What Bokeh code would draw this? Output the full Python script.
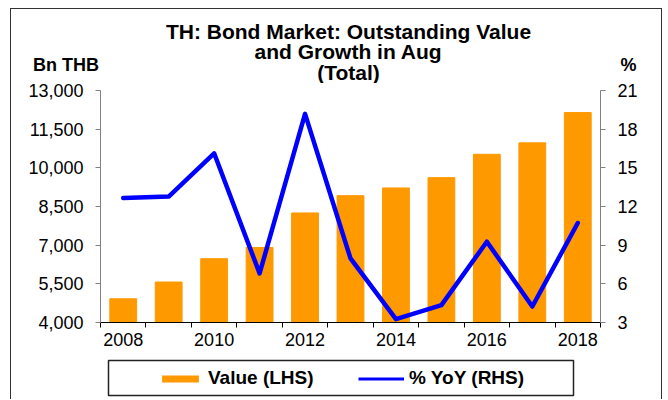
from bokeh.plotting import figure
from bokeh.layouts import column
from bokeh.models import (Range1d, LinearAxis, FixedTicker, NumeralTickFormatter,
                          Legend, LegendItem, ColumnDataSource)
from bokeh.core.properties import value
from bokeh.embed import file_html
from bokeh.resources import INLINE

# ---- data ----
years = [2008, 2009, 2010, 2011, 2012, 2013, 2014, 2015, 2016, 2017, 2018]
values = [4920, 5570, 6475, 6910, 8250, 8920, 9220, 9620, 10525, 10970, 12145]
yoy = [12.66, 12.77, 16.13, 6.81, 19.19, 7.97, 3.26, 4.35, 9.27, 4.24, 10.72]
left_ticks = [4000, 5500, 7000, 8500, 10000, 11500, 13000]
right_ticks = [3, 6, 9, 12, 15, 18, 21]
year_labels = [2008, 2010, 2012, 2014, 2016, 2018]
title_lines = ["TH: Bond Market: Outstanding Value", "and Growth in Aug", "(Total)"]
left_unit = "Bn THB"
right_unit = "%"
series_names = ["Value (LHS)", "% YoY (RHS)"]

FONT = "Liberation Sans"
ORANGE = "#FF9900"
BLUE = "#0000FF"
GRAY = "#808080"

# page geometry (column content starts at x=11, y=9)
X0, X1 = 11, 661
W = X1 - X0
Y0 = 9
HEAD_BOT = 83
OVERLAP = 10
MAIN_BOT = 357
PAGE_BOT = 399


def blank_fig(y_top, y_bot):
    f = figure(width=W, height=y_bot - y_top, output_backend="svg", toolbar_location=None,
               x_range=Range1d(X0, X1), y_range=Range1d(y_bot, y_top),
               min_border=0, x_axis_location=None, y_axis_location=None,
               frame_align=False)
    f.outline_line_color = None
    f.xgrid.visible = False
    f.ygrid.visible = False
    f.border_fill_color = "white"
    f.background_fill_color = "white"
    return f


# ---- header (title and unit labels) ----
head = blank_fig(Y0, HEAD_BOT)
head.text(x=[348] * 3, y=[30.5, 51.2, 72], text=title_lines, text_font=value(FONT),
          text_font_style="bold", text_font_size="21px", text_align="center",
          text_baseline="alphabetic", text_color="black")
head.text(x=[65.5, 628], y=[64, 64], text=[left_unit, right_unit], text_font=value(FONT),
          text_font_style="bold", text_font_size="18px", text_align="center",
          text_baseline="alphabetic", text_color="black")

# ---- main chart (its transparent top border overlaps the header a little) ----
main_top = HEAD_BOT - OVERLAP
src = ColumnDataSource(dict(year=years, value=values, yoy=yoy))
p = figure(width=W, height=MAIN_BOT - main_top, output_backend="svg", toolbar_location=None,
           x_range=Range1d(years[0] - 0.5, years[-1] + 0.5),
           y_range=Range1d(left_ticks[0], left_ticks[-1]),
           min_border_left=100 - X0, min_border_right=X1 - 600,
           min_border_top=90 - main_top, min_border_bottom=MAIN_BOT - 322,
           y_axis_location=None, x_axis_location=None, frame_align=False,
           margin=(-OVERLAP, 0, 0, 0))
p.outline_line_color = None
p.xgrid.visible = False
p.ygrid.visible = False
p.border_fill_alpha = 0
p.background_fill_color = "white"
p.extra_y_ranges = {"pct": Range1d(right_ticks[0], right_ticks[-1])}

p.vbar(x="year", top="value", bottom=left_ticks[0], width=0.59, source=src,
       fill_color=ORANGE, line_color=ORANGE)
p.line(x="year", y="yoy", source=src, y_range_name="pct", line_color=BLUE,
       line_width=4.5, line_join="round", line_cap="round")


def style_axis(ax, color):
    ax.axis_line_color = color
    ax.major_tick_line_color = color
    ax.major_tick_in = 0
    ax.major_tick_out = 5
    ax.minor_tick_line_color = None
    ax.major_label_text_font = FONT
    ax.major_label_text_font_size = "18px"
    ax.major_label_text_color = "black"


xax = LinearAxis(ticker=FixedTicker(ticks=year_labels,
                                    minor_ticks=[y - 0.5 for y in years] + [years[-1] + 0.5]))
style_axis(xax, "black")
xax.major_tick_line_color = None
xax.minor_tick_line_color = "black"
xax.minor_tick_in = 0
xax.minor_tick_out = 5
xax.major_label_standoff = 5
p.add_layout(xax, "below")

lax = LinearAxis(ticker=FixedTicker(ticks=left_ticks), formatter=NumeralTickFormatter(format="0,0"))
style_axis(lax, GRAY)
lax.major_label_standoff = 12
p.add_layout(lax, "left")

rax = LinearAxis(y_range_name="pct", ticker=FixedTicker(ticks=right_ticks))
style_axis(rax, GRAY)
rax.major_label_standoff = 12
p.add_layout(rax, "right")

# ---- legend strip ----
leg = blank_fig(MAIN_BOT, PAGE_BOT)
leg.quad(left=[108], right=[573], top=[360], bottom=[395], fill_color=None,
         line_color="#222222", line_width=1.5)
# legend proxies: the same series, lying outside this strip's visible range
r_bar = leg.vbar(x=years, top=values, width=0.59, fill_color=ORANGE, line_color=None)
r_line = leg.line(x=years, y=yoy, line_color=BLUE, line_width=3)
legend = Legend(items=[LegendItem(label=series_names[0], renderers=[r_bar]),
                       LegendItem(label=series_names[1], renderers=[r_line])],
                orientation="horizontal", location="left", margin=157 - X0,
                glyph_width=46, glyph_height=9, label_standoff=5, spacing=0, padding=0,
                label_width=150, border_line_color=None, background_fill_alpha=0,
                label_text_font=FONT, label_text_font_style="bold",
                label_text_font_size="19px", label_text_color="black")
leg.add_layout(legend, "center")

layout = column(head, p, leg, spacing=0, margin=(8, 0, 0, 10),
                styles={"border-top": "1px solid #333333",
                        "border-left": "1px solid #333333",
                        "border-right": "1px solid #333333"})

open("out.html", "w").write(file_html(layout, INLINE))
